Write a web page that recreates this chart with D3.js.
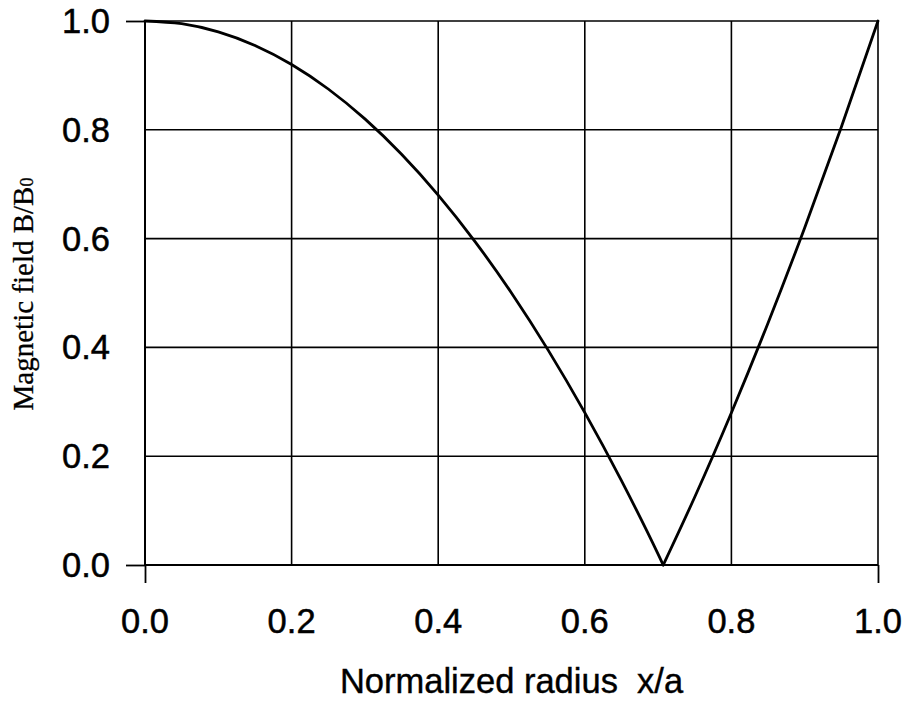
<!DOCTYPE html>
<html><head><meta charset="utf-8">
<script src="https://cdn.jsdelivr.net/npm/d3@7"></script>
<style>body{margin:0;background:#fff}svg{display:block}</style>
</head><body>
<svg id="c" width="908" height="706"></svg>
<script>
const xTicks = [0.0, 0.2, 0.4, 0.6, 0.8, 1.0];
const yTicks = [0.0, 0.2, 0.4, 0.6, 0.8, 1.0];
const xTickLabels = ["0.0", "0.2", "0.4", "0.6", "0.8", "1.0"];
const yTickLabels = ["0.0", "0.2", "0.4", "0.6", "0.8", "1.0"];
const radius = [0, 0.05, 0.1, 0.15, 0.2, 0.25, 0.3, 0.35, 0.4, 0.45, 0.5, 0.55, 0.6, 0.65, 0.7, 0.707, 0.75, 0.8, 0.85, 0.9, 0.95, 1.0];
const field  = [1.0, 0.995, 0.98, 0.955, 0.92, 0.875, 0.82, 0.755, 0.68, 0.595, 0.50, 0.395, 0.28, 0.155, 0.02, 0.0, 0.125, 0.28, 0.445, 0.62, 0.805, 1.0];
const xTitle = "Normalized radius  x/a";

const svg = d3.select("#c");
const x = d3.scaleLinear().domain([0, 1]).range([145, 878]);
const y = d3.scaleLinear().domain([0, 1]).range([565, 21]);

const g = svg.append("g");
// grid
g.selectAll(".vg").data(xTicks.slice(1)).join("line")
  .attr("x1", d => x(d)).attr("x2", d => x(d)).attr("y1", y(0)).attr("y2", y(1))
  .attr("stroke", "#000").attr("stroke-width", 1.6);
g.selectAll(".hg").data(yTicks.slice(1)).join("line")
  .attr("x1", x(0)).attr("x2", x(1)).attr("y1", d => y(d)).attr("y2", d => y(d))
  .attr("stroke", "#000").attr("stroke-width", 1.6);

// axes
const xAxis = d3.axisBottom(x).tickValues([0, 1]).tickSize(18).tickFormat("");
const yAxis = d3.axisLeft(y).tickValues([0, 1]).tickSize(19).tickFormat("");
const ax = g.append("g").attr("transform", `translate(0,${y(0)})`).call(xAxis);
const ay = g.append("g").attr("transform", `translate(${x(0)},0)`).call(yAxis);
[ax, ay].forEach(a => {
  a.select(".domain").attr("stroke", "#000").attr("stroke-width", 2);
  a.selectAll(".tick line").attr("stroke", "#000").attr("stroke-width", 1.8);
});
ax.select(".domain").attr("d", `M${x(0)},0H${x(1)}`);
ay.select(".domain").attr("d", `M0,${y(0)}V${y(1)}`);

const sans = "Liberation Sans, Arial, sans-serif";
// tick labels
g.selectAll(".xl").data(xTicks).join("text")
  .attr("x", d => x(d)).attr("y", 633)
  .attr("text-anchor", "middle")
  .attr("font-family", sans).attr("font-size", 34.5)
  .attr("stroke", "#000").attr("stroke-width", 0.5)
  .text((d, i) => xTickLabels[i]);
g.selectAll(".yl").data(yTicks).join("text")
  .attr("x", 110).attr("y", d => y(d) + 12)
  .attr("text-anchor", "end")
  .attr("font-family", sans).attr("font-size", 34.5)
  .attr("stroke", "#000").attr("stroke-width", 0.5)
  .text((d, i) => yTickLabels[i]);

// titles
g.append("text").attr("x", (x(0) + x(1)) / 2).attr("y", 693)
  .attr("text-anchor", "middle").style("white-space", "pre")
  .attr("font-family", sans).attr("font-size", 34.5)
  .attr("stroke", "#000").attr("stroke-width", 0.4)
  .text(xTitle);
const yt = g.append("text").attr("transform", "translate(33,294) rotate(-90)")
  .attr("text-anchor", "middle")
  .attr("font-family", "Liberation Serif, Times New Roman, serif").attr("font-size", 29)
  .attr("stroke", "#000").attr("stroke-width", 0.3);
yt.append("tspan").text("Magnetic field B/B");
yt.append("tspan").attr("font-size", 18).text("0");

// curve: two monotone branches meeting at the zero
const pts = radius.map((r, i) => [r, field[i]]);
const iMin = field.indexOf(d3.min(field));
const line = d3.line().x(d => x(d[0])).y(d => y(d[1])).curve(d3.curveMonotoneX);
[pts.slice(0, iMin + 1), pts.slice(iMin)].forEach(b => {
  g.append("path").datum(b)
    .attr("d", line)
    .attr("fill", "none").attr("stroke", "#000").attr("stroke-width", 2.8)
    .attr("stroke-linejoin", "round").attr("stroke-linecap", "round");
});
</script>
</body></html>
